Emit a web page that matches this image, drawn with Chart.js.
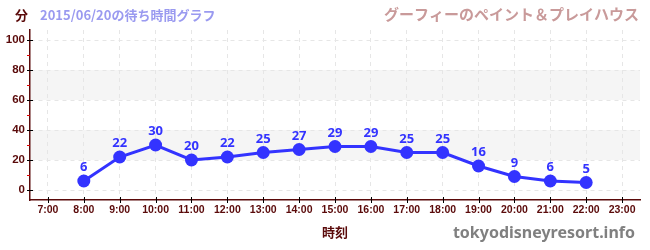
<!DOCTYPE html>
<html><head><meta charset="utf-8">
<script src="https://cdn.jsdelivr.net/npm/chart.js@4"></script>
<style>html,body{margin:0;padding:0;background:#fff}#w{width:650px;height:250px}</style>
</head><body><div id="w"><canvas id="c" width="650" height="250"></canvas></div>
<script>
const categories = ["7:00","8:00","9:00","10:00","11:00","12:00","13:00","14:00","15:00","16:00","17:00","18:00","19:00","20:00","21:00","22:00","23:00"];
const waitTimes = [null,6,22,30,20,22,25,27,29,29,25,25,16,9,6,5,null];
const yTicks = [0,20,40,60,80,100];
const yMinorTicks = [10,30,50,70,90];
const bands = [[20,40],[60,80]];
const chartTitle = "2015/06/20の待ち時間グラフ";
const attractionName = "グーフィーのペイント＆プレイハウス";
const yUnit = "分";
const xTitle = "時刻";
const watermark = "tokyodisneyresort.info";

const maroon = '#5a0a0a';
const blue = '#3333ff';

const decor = {
  id: 'decor',
  beforeDraw(chart) {
    const {ctx, chartArea: a, scales: {y}} = chart;
    ctx.save();
    ctx.fillStyle = '#f5f5f5';
    bands.forEach(([lo, hi]) => {
      const t = y.getPixelForValue(hi), b = y.getPixelForValue(lo);
      ctx.fillRect(a.left, t, a.right - a.left, b - t);
    });
    ctx.restore();
  },
  afterDraw(chart) {
    const {ctx, chartArea: a, scales: {x, y}} = chart;
    ctx.save();
    ctx.lineWidth = 1;
    yTicks.forEach(v => {
      const p = Math.round(y.getPixelForValue(v)) + 0.5;
      ctx.strokeStyle = '#000';
      ctx.beginPath(); ctx.moveTo(a.left - 3, p); ctx.lineTo(a.left + 3, p); ctx.stroke();
    });
    yMinorTicks.forEach(v => {
      const p = Math.round(y.getPixelForValue(v)) + 0.5;
      ctx.strokeStyle = '#e00000';
      ctx.beginPath(); ctx.moveTo(a.left - 3, p); ctx.lineTo(a.left, p); ctx.stroke();
    });
    categories.forEach((c, i) => {
      const p = Math.round(x.getPixelForValue(i)) + 0.5;
      ctx.strokeStyle = '#000';
      ctx.beginPath(); ctx.moveTo(p, a.bottom - 3); ctx.lineTo(p, a.bottom + 3); ctx.stroke();
    });
    ctx.textBaseline = 'middle';
    ctx.textAlign = 'left';
    ctx.fillStyle = maroon;
    ctx.font = 'bold 13px "Noto Sans CJK JP"';
    ctx.fillText(yUnit, 15, 15);
    ctx.fillStyle = '#9a9af0';
    ctx.font = 'bold 13px "Noto Sans CJK JP"';
    ctx.fillText(chartTitle, 40, 15);
    ctx.textAlign = 'right';
    ctx.fillStyle = '#c99a9a';
    ctx.font = 'bold 15px "Noto Sans CJK JP"';
    ctx.fillText(attractionName, 639, 14);
    ctx.fillStyle = '#808080';
    ctx.font = 'bold 16px "Noto Sans"';
    ctx.fillText(watermark, 635, 233);
    ctx.textAlign = 'center';
    ctx.fillStyle = maroon;
    ctx.font = 'bold 13px "Noto Sans CJK JP"';
    ctx.fillText(xTitle, (a.left + a.right) / 2, 232);
    const meta = chart.getDatasetMeta(0);
    ctx.fillStyle = blue;
    ctx.font = 'bold 13px "Noto Sans"';
    ctx.textBaseline = 'alphabetic';
    meta.data.forEach((pt, i) => {
      const v = waitTimes[i];
      if (v === null || v === undefined) return;
      ctx.fillText(String(v), pt.x, pt.y - 10);
    });
    ctx.restore();
  }
};

new Chart(document.getElementById('c'), {
  type: 'line',
  data: {
    labels: categories,
    datasets: [{
      data: waitTimes,
      borderColor: blue,
      backgroundColor: blue,
      borderWidth: 3,
      pointRadius: 6.5,
      pointHoverRadius: 6.5,
      pointBorderWidth: 0,
      tension: 0,
      spanGaps: false
    }]
  },
  options: {
    responsive: false,
    animation: false,
    events: [],
    layout: {padding: {top: 30, right: 10, left: 0, bottom: 0}},
    plugins: {legend: {display: false}, tooltip: {enabled: false}, title: {display: false}},
    scales: {
      x: {
        offset: true,
        grid: {offset: false, color: '#e6e6e6', drawTicks: false, lineWidth: 1},
        border: {color: maroon, width: 1.5, dash: [4, 4]},
        ticks: {color: maroon, font: {family: '"Liberation Sans"', size: 10.5, weight: 'bold'}, padding: 4, maxRotation: 0, autoSkip: false},
        afterFit(s) { s.height = 50; }
      },
      y: {
        min: -20/3, max: 320/3,
        afterBuildTicks(s) { s.ticks = yTicks.map(v => ({value: v})); },
        grid: {color: '#e6e6e6', drawTicks: false, lineWidth: 1},
        border: {color: maroon, width: 1.5, dash: [4, 4]},
        ticks: {color: maroon, font: {family: '"Liberation Sans"', size: 11.5, weight: 'bold'}, padding: 5},
        afterFit(s) { s.width = 30; }
      }
    }
  },
  plugins: [decor]
});
</script></body></html>
